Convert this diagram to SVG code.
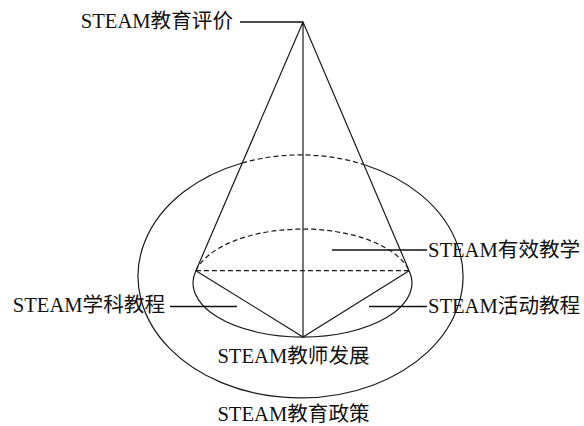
<svg xmlns="http://www.w3.org/2000/svg" width="584" height="426" viewBox="0 0 584 426">
<style>
.ln{fill:none;stroke:#1a1a1a;stroke-width:1.2}
.dash{fill:none;stroke:#1a1a1a;stroke-width:1.2;stroke-dasharray:5 3}
.lead{fill:none;stroke:#111;stroke-width:1.7}
.t{font-family:"Liberation Serif","Noto Sans CJK SC",serif;font-size:20.6px;fill:#111}
</style>
<rect width="584" height="426" fill="#fff"/>
<g id="shape">
<path class="dash" d="M242.2 163 A162.5 121.5 0 0 1 364.4 164.7"/>
<path class="ln" d="M364.4 164.7 A162.5 121.5 0 1 1 242.2 163"/>
<path class="dash" d="M195.9 270.7 A109.5 54 0 0 1 409.1 270.7"/>
<path class="ln" d="M409.1 270.7 A109.5 54 0 1 1 195.9 270.7"/>
<line class="dash" x1="195.9" y1="270.7" x2="409.1" y2="270.7"/>
<path class="ln" d="M195.9 270.7 L303 22 L409.1 270.7 M195.9 270.7 L303 337 L409.1 270.7 M303 22 L303 337"/>
</g>
<g id="connectors">
<line class="lead" x1="240" y1="22" x2="303" y2="22"/>
<line class="lead" x1="332" y1="250" x2="427" y2="250"/>
<line class="lead" x1="170" y1="306.5" x2="237" y2="306.5"/>
<line class="lead" x1="369" y1="306.5" x2="427" y2="306.5"/>
</g>
<g id="evaluation"><text class="t" x="233" y="28" text-anchor="end">STEAM教育评价</text></g>
<g id="teaching"><text class="t" x="428" y="257">STEAM有效教学</text></g>
<g id="subject"><text class="t" x="165" y="312" text-anchor="end">STEAM学科教程</text></g>
<g id="activity"><text class="t" x="428" y="313">STEAM活动教程</text></g>
<g id="teacher"><text class="t" x="293.5" y="363" text-anchor="middle">STEAM教师发展</text></g>
<g id="policy"><text class="t" x="293.5" y="421" text-anchor="middle">STEAM教育政策</text></g>
</svg>
